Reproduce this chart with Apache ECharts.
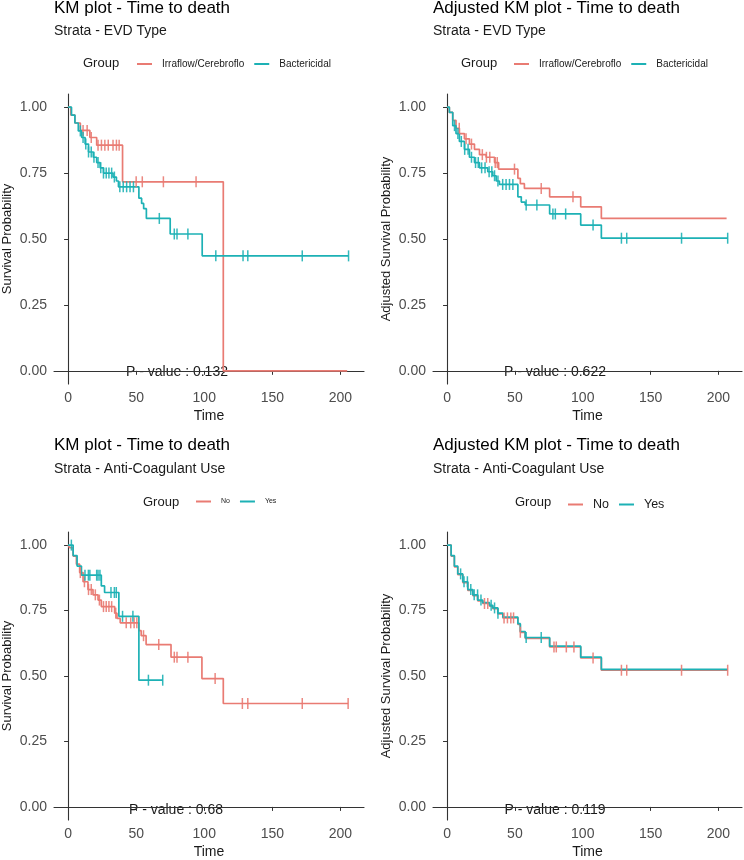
<!DOCTYPE html>
<html><head><meta charset="utf-8">
<script src="https://cdn.jsdelivr.net/npm/echarts@6/dist/echarts.min.js"></script>
<style>html,body{margin:0;padding:0;background:#fff}#c{width:744px;height:860px}</style>
</head><body><div id="c"></div>
<script>
// ---------- DATA ----------
const xTicks = [0, 50, 100, 150, 200];
const yTicks = [0, 0.25, 0.5, 0.75, 1];

// Panel 1: KM, EVD type
const evdIrraTime = [0, 2, 5, 9, 16, 21, 40, 114, 205];
const evdIrraSurv = [1, 0.97, 0.94, 0.912, 0.885, 0.856, 0.717, 0, 0];
const evdIrraCens = [11, 14, 17, 22, 24.5, 27, 29.5, 33, 35.5, 37.5, 50, 54.5, 70, 94];
const evdBactTime = [0, 2.5, 5, 7.5, 10, 12.5, 15, 18.5, 21, 23.5, 26, 33, 35.5, 37, 52, 54, 55.5, 57.5, 75, 98.5, 206];
const evdBactSurv = [1, 0.97, 0.94, 0.91, 0.885, 0.86, 0.83, 0.81, 0.79, 0.77, 0.75, 0.735, 0.72, 0.698, 0.655, 0.635, 0.615, 0.578, 0.519, 0.436, 0.436];
const evdBactCens = [9, 11, 13, 15, 17, 19, 22, 24, 26, 28, 30, 32, 34, 38, 40.5, 43, 45.5, 48, 67, 78, 80, 88, 108.5, 128.5, 132, 172, 206];

// Panel 2: Adjusted KM, EVD type
const adjIrraTime = [0, 1.7, 4.2, 6.6, 9.1, 12.8, 16.5, 20.2, 23.9, 28.8, 35, 38, 52.2, 54, 57, 75.6, 98.5, 113.7, 206];
const adjIrraSurv = [1, 0.98, 0.95, 0.92, 0.90, 0.88, 0.86, 0.84, 0.82, 0.81, 0.79, 0.765, 0.73, 0.71, 0.692, 0.66, 0.622, 0.578, 0.578];
const adjIrraCens = [9, 14, 18, 26, 29, 31.5, 35.5, 37, 49.7, 69.4, 92.8];
const adjBactTime = [0, 1.7, 4.2, 6.6, 9.1, 12.8, 16.5, 20.2, 23.9, 30, 33.7, 36.2, 38.6, 52.2, 54.7, 57.6, 75.6, 98.5, 113.7, 206.8];
const adjBactSurv = [1, 0.98, 0.93, 0.90, 0.87, 0.84, 0.81, 0.79, 0.77, 0.755, 0.74, 0.72, 0.707, 0.66, 0.64, 0.629, 0.595, 0.553, 0.503, 0.503];
const adjBactCens = [5.5, 8, 10.5, 13, 15.5, 18, 21, 23, 25.5, 28, 31, 33, 35, 37.5, 41, 43.5, 46, 48.5, 58.3, 66.2, 78, 79.8, 87.4, 107.6, 128.5, 132.4, 172.8, 206.8];

// Panel 3: KM, Anti-coagulant use
const acNoTime = [0, 1.2, 3.7, 6.1, 8.5, 11, 14.6, 18.3, 22, 24.4, 34.2, 35.9, 38.3, 52, 53.7, 57.3, 75.6, 98.3, 114, 205.7];
const acNoSurv = [1, 0.99, 0.958, 0.927, 0.895, 0.86, 0.83, 0.81, 0.79, 0.765, 0.74, 0.72, 0.703, 0.673, 0.654, 0.62, 0.572, 0.49, 0.395, 0.395];
const acNoCens = [9, 12, 15, 17, 20, 23, 26, 28, 30, 32, 35, 42.7, 46, 48.5, 50.5, 55.4, 66.6, 78, 80, 88, 108, 128, 132, 172, 205.7];
const acYesTime = [0, 3.7, 6.6, 9.8, 24.4, 26.8, 37.3, 52, 69.5];
const acYesSurv = [1, 0.96, 0.92, 0.885, 0.844, 0.819, 0.728, 0.484, 0.484];
const acYesCens = [2.4, 12.4, 14.9, 16, 21, 22, 23.4, 31.5, 34, 35.4, 40, 47.6, 59, 69.5];

// Panel 4: Adjusted KM, Anti-coagulant use
const adjNoTime = [0, 3, 5.4, 7.9, 11.6, 15.3, 19, 22.6, 26.3, 31.3, 33.7, 37.4, 41.1, 52.2, 54, 57.6, 75.6, 98.5, 113.7, 206.8];
const adjNoSurv = [1, 0.958, 0.917, 0.887, 0.857, 0.827, 0.807, 0.787, 0.777, 0.767, 0.757, 0.737, 0.722, 0.697, 0.667, 0.644, 0.611, 0.569, 0.522, 0.522];
const adjNoCens = [27.6, 30, 42, 44.5, 47, 49, 54, 78.8, 80.5, 87.9, 93.5, 107.6, 128.5, 132.4, 172.8, 206.8];
const adjYesTime = [0, 3, 5.4, 7.9, 11.6, 15.3, 19, 22.6, 26.3, 31.3, 33.7, 37.4, 41.1, 52.2, 54, 57.6, 75.6, 98.5, 113.7, 206.8];
const adjYesSurv = [1, 0.96, 0.92, 0.89, 0.86, 0.83, 0.81, 0.79, 0.78, 0.77, 0.76, 0.74, 0.725, 0.70, 0.67, 0.647, 0.614, 0.572, 0.525, 0.525];
const adjYesCens = [10, 12.5, 15, 17.5, 20, 22.5, 25, 32.5, 35, 37.5, 58.3, 69.4];

const pValues = ['0.132', '0.622', '0.68', '0.119'];

// ---------- BUILD ----------
const RED = '#E97B73', TEAL = '#1DB1B5';
const FONT = '"Liberation Sans", Arial, sans-serif';

function stepAt(times, surv, t) {
  let v = surv[0];
  for (let i = 0; i < times.length; i++) { if (times[i] <= t) v = surv[i]; }
  return v;
}
function pairs(times, surv) { return times.map((t, i) => [t, surv[i]]); }

const panels = [
  { left: 54, top: 94, w: 310, title: 'KM plot - Time to death', sub: 'Strata - EVD Type', yname: 'Survival Probability',
    names: ['Irraflow/Cerebroflo', 'Bactericidal'], curves: [[evdIrraTime, evdIrraSurv, evdIrraCens], [evdBactTime, evdBactSurv, evdBactCens]],
    legX: 132, legFont: 10, groupX: 83, legY: 63, titleY: 8.5, subY: 31, pX: 177, pY: 372 },
  { left: 433, top: 94, w: 309, title: 'Adjusted KM plot - Time to death', sub: 'Strata - EVD Type', yname: 'Adjusted Survival Probability',
    names: ['Irraflow/Cerebroflo', 'Bactericidal'], curves: [[adjIrraTime, adjIrraSurv, adjIrraCens], [adjBactTime, adjBactSurv, adjBactCens]],
    legX: 509, legFont: 10, groupX: 461, legY: 63, titleY: 8.5, subY: 31, pX: 555, pY: 372 },
  { left: 54, top: 532, w: 310, title: 'KM plot - Time to death', sub: 'Strata - Anti-Coagulant Use', yname: 'Survival Probability',
    names: ['No', 'Yes'], curves: [[acNoTime, acNoSurv, acNoCens], [acYesTime, acYesSurv, acYesCens]],
    legX: 191, legFont: 7, groupX: 143, legY: 502, titleY: 445, subY: 469, pX: 176, pY: 810 },
  { left: 433, top: 532, w: 309, title: 'Adjusted KM plot - Time to death', sub: 'Strata - Anti-Coagulant Use', yname: 'Adjusted Survival Probability',
    names: ['No', 'Yes'], curves: [[adjNoTime, adjNoSurv, adjNoCens], [adjYesTime, adjYesSurv, adjYesCens]],
    legX: 563, legFont: 12.5, groupX: 515, legY: 502, titleY: 445, subY: 469, pX: 555, pY: 810 }
];

const grid = [], xAxis = [], yAxis = [], series = [], legend = [], graphic = [];
panels.forEach((p, i) => {
  grid.push({ left: p.left, top: p.top, width: p.w, height: 290 });
  xAxis.push({
    type: 'value', gridIndex: i, min: -10.35, max: 217.35,
    name: 'Time', nameLocation: 'middle', nameGap: 25,
    nameTextStyle: { fontSize: 14, color: '#1a1a1a', fontFamily: FONT },
    axisLine: { show: true, lineStyle: { color: '#333', width: 1.1 } },
    axisTick: { show: true, length: 4, customValues: xTicks, lineStyle: { color: '#333' } },
    axisLabel: { customValues: xTicks, fontSize: 14, color: '#4d4d4d', margin: 7, fontFamily: FONT },
    splitLine: { show: false }
  });
  yAxis.push({
    type: 'value', gridIndex: i, min: -0.05, max: 1.05,
    name: p.yname, nameLocation: 'middle', nameGap: 40,
    nameTextStyle: { fontSize: 13, color: '#1a1a1a', fontFamily: FONT },
    axisLine: { show: true, lineStyle: { color: '#333', width: 1.1 } },
    axisTick: { show: true, length: 4, customValues: yTicks, lineStyle: { color: '#333' } },
    axisLabel: { customValues: yTicks, fontSize: 14, color: '#4d4d4d', margin: 7, fontFamily: FONT, formatter: v => v.toFixed(2) },
    splitLine: { show: false }
  });
  const cols = [RED, TEAL];
  p.curves.forEach((c, k) => {
    series.push({
      type: 'line', name: p.names[k], xAxisIndex: i, yAxisIndex: i, step: 'end',
      data: pairs(c[0], c[1]), showSymbol: false, color: cols[k],
      lineStyle: { width: 1.7, color: cols[k] }, animation: false, z: 2 + k
    });
  });
  p.curves.forEach((c, k) => {
    series.push({
      type: 'scatter', name: p.names[k], xAxisIndex: i, yAxisIndex: i,
      data: c[2].map(t => [t, stepAt(c[0], c[1], t)]),
      symbol: 'rect', symbolSize: [1.5, 11], color: cols[k],
      itemStyle: { color: cols[k], opacity: 0.9 }, animation: false, z: 4 + k
    });
  });
  legend.push({
    left: p.legX, top: p.legY - 9, orient: 'horizontal', data: p.names,
    icon: 'rect', itemWidth: 15, itemHeight: 2, itemGap: 10, selectedMode: false,
    textStyle: { fontSize: p.legFont, color: '#1a1a1a', fontFamily: FONT, padding: [0, 0, 0, 5] }
  });
  graphic.push(
    { type: 'text', x: p.left, y: p.titleY, style: { text: p.title, font: '17px ' + FONT, fill: '#000', textAlign: 'left', textVerticalAlign: 'middle' } },
    { type: 'text', x: p.left, y: p.subY, style: { text: p.sub, font: '14px ' + FONT, fill: '#1a1a1a', textAlign: 'left', textVerticalAlign: 'middle' } },
    { type: 'text', x: p.groupX, y: p.legY, style: { text: 'Group', font: '13px ' + FONT, fill: '#1a1a1a', textAlign: 'left', textVerticalAlign: 'middle' } },
    { type: 'text', x: p.pX, y: p.pY, style: { text: 'P - value : ' + pValues[i], font: '14px ' + FONT, fill: '#1a1a1a', textAlign: 'center', textVerticalAlign: 'middle' } }
  );
});

const chart = echarts.init(document.getElementById('c'), null, { renderer: 'canvas' });
chart.setOption({ backgroundColor: '#fff', animation: false, grid, xAxis, yAxis, series, legend, graphic });
</script></body></html>
